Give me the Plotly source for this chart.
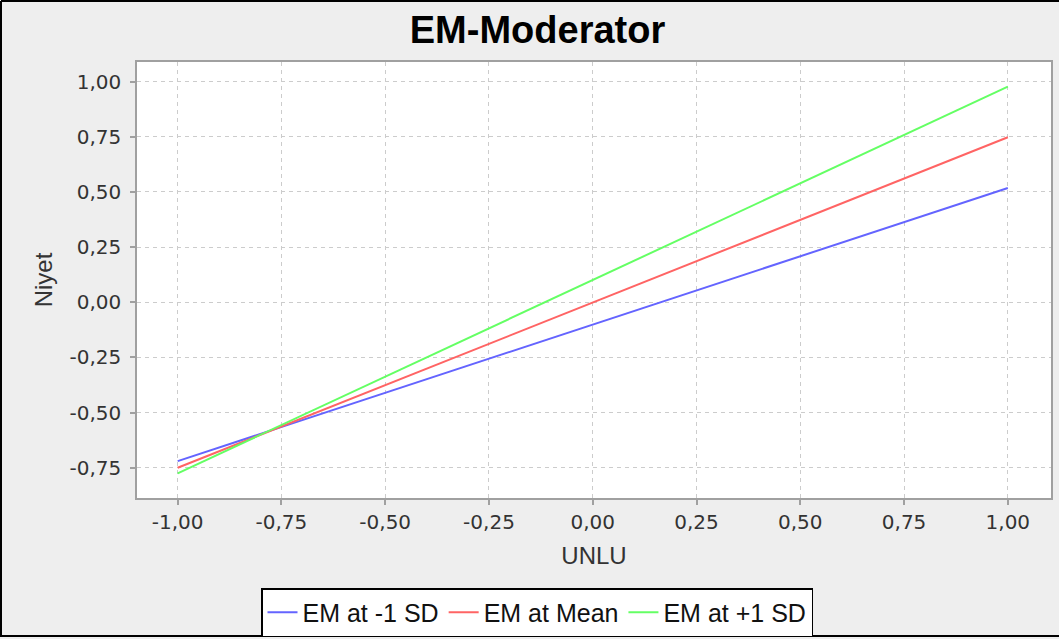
import plotly.graph_objects as go

x_vals = [-1.0, 1.0]
series_names = ["EM at -1 SD", "EM at Mean", "EM at +1 SD"]
y_low = [-0.72, 0.518]
y_mean = [-0.75, 0.748]
y_high = [-0.775, 0.977]
colors = ["#6464ff", "#ff6464", "#64ff64"]
tick_vals = [-1.0, -0.75, -0.5, -0.25, 0.0, 0.25, 0.5, 0.75, 1.0]
tick_text = [f"{v:.2f}".replace(".", ",") for v in tick_vals]

W, H = 1059, 639
L, R, T, B = 137, 8, 62, 141
pw, ph = W - L - R, H - T - B

TEXT_FONT = "Liberation Sans, Arial, sans-serif"
TICK_FONT = "DejaVu Sans, Verdana, sans-serif"

fig = go.Figure()
for name, ys, c in zip(series_names, [y_low, y_mean, y_high], colors):
    fig.add_trace(go.Scatter(x=x_vals, y=ys, mode="lines", name=name,
                             line=dict(color=c, width=2)))

axis_common = dict(
    showgrid=True, gridcolor="#cccccc", griddash="4px,4px", gridwidth=1,
    zeroline=False, showline=True, linecolor="#a0a0a0", linewidth=1.5, mirror=True,
    ticks="outside", ticklen=5, tickcolor="#a0a0a0", tickwidth=1.5,
    tickfont=dict(family=TICK_FONT, size=20, color="#333333"),
    tickvals=tick_vals, ticktext=tick_text, automargin=False,
)

fig.update_layout(
    width=W, height=H,
    margin=dict(l=L, r=R, t=T, b=B),
    paper_bgcolor="#eeeeee", plot_bgcolor="#ffffff",
    title=dict(text="<b>EM-Moderator</b>", x=537.5 / W, xref="container", y=1 - 30 / H,
               yref="container", xanchor="center", yanchor="middle",
               font=dict(family=TEXT_FONT, size=38, color="#000000")),
    xaxis=dict(range=[-1.098, 1.104], title=dict(text="UNLU", standoff=14,
               font=dict(family=TEXT_FONT, size=24, color="#333333")),
               **axis_common),
    yaxis=dict(range=[-0.887, 1.089], ticklabelstandoff=5,
               title=dict(text="Niyet", standoff=10,
               font=dict(family=TEXT_FONT, size=24, color="#333333")),
               **axis_common),
    showlegend=True,
    legend=dict(orientation="h", xref="container", yref="container",
                x=537 / W, xanchor="center", y=1 - 588 / H, yanchor="top",
                bgcolor="#ffffff", bordercolor="#000000", borderwidth=1.5,
                font=dict(family=TEXT_FONT, size=25, color="#111111"),
                itemwidth=30, tracegroupgap=0),
)

# outer frame
fig.add_shape(type="line", xref="paper", yref="paper",
              x0=-(L - 1) / pw, x1=-(L - 1) / pw, y0=-(B - 2) / ph, y1=1 + (T - 1) / ph,
              line=dict(color="#000000", width=2))
fig.add_shape(type="line", xref="paper", yref="paper",
              x0=-(L - 1) / pw, x1=1 + (R) / pw, y0=1 + (T - 1) / ph, y1=1 + (T - 1) / ph,
              line=dict(color="#000000", width=2))
fig.add_shape(type="line", xref="paper", yref="paper",
              x0=-(L - 1) / pw, x1=1 + (R) / pw, y0=-(B - 3) / ph, y1=-(B - 3) / ph,
              line=dict(color="#000000", width=2))

fig.write_html("out.html", config={"displayModeBar": False},
               post_script="document.body.style.margin='0';")
